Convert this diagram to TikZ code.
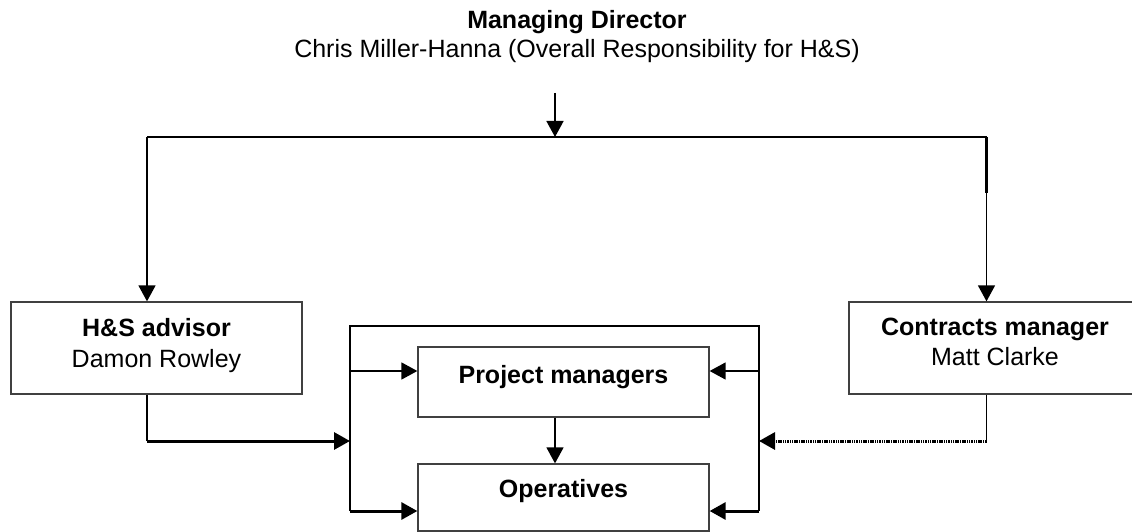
\documentclass[tikz,border=0pt]{standalone}
\usepackage{fontspec}
\setmainfont{Liberation Sans}
\usetikzlibrary{arrows.meta}
\tikzset{
  box/.style={draw=black!75, line width=1.3pt, rectangle, inner sep=0pt, minimum width=291pt},
  lbl/.style={anchor=base, inner sep=0pt, font=\fontsize{25}{29}\selectfont},
  blbl/.style={lbl, font=\fontsize{25}{29}\selectfont\bfseries},
  thinline/.style={line width=1.5pt, black},
  arr/.style={thinline, -{Triangle[length=16pt,width=17pt]}},
  thickarr/.style={line width=3pt, black, -{Triangle[length=16pt,width=17pt]}},
  dotarr/.style={line width=3pt, black, dash pattern=on 1.5pt off 0.8pt, -{Triangle[length=16pt,width=17pt]}},
}
\begin{document}
\begin{tikzpicture}[x=1pt,y=-1pt]
\useasboundingbox (0,0) rectangle (1132,532);
\fill[white] (0,0) rectangle (1132,532);
\clip (0,0) rectangle (1132,532);

% texts of the managing director
\node[blbl] (md) at (577,29) {Managing Director};
\node[lbl] (mdname) at (577,58) {Chris Miller-Hanna (Overall Responsibility for H\&S)};

% boxes
\node[box, minimum height=92pt] (hs) at (156.5,348) {};
\node[box, minimum width=292pt, minimum height=92pt] (cm) at (995,348) {};
\node[box, minimum height=70pt] (pm) at (563.5,382) {};
\node[box, minimum height=67pt] (ops) at (563.5,497.5) {};

% box texts
\node[blbl] (hst) at (156.5,336) {H\&S advisor};
\node[lbl] (hsn) at (156.5,367) {Damon Rowley};
\node[blbl] (cmt) at (995,335) {Contracts manager};
\node[lbl] (cmn) at (995,365) {Matt Clarke};
\node[blbl] (pmt) at (563.5,383) {Project managers};
\node[blbl] (opst) at (563.5,497) {Operatives};

% helper coordinates
\coordinate (mdout) at (555,93);
\coordinate (split) at (555,137);
\coordinate (jl) at (147,137);
\coordinate (jr) at (986.5,137);
\coordinate (jrthick) at (986.5,193);
\coordinate (encTL) at (350,326);
\coordinate (encTR) at (759,326);
\coordinate (encBL) at (350,511);
\coordinate (encBR) at (759,511);
\coordinate (hsbend) at (147,441);
\coordinate (cmbend) at (986.5,441);
\coordinate (pmrow) at (0,371);

% top distribution
\draw[arr] (mdout) -- (split);
\draw[thinline] (jl) -- (jr);
\draw[arr] (jl) -- (jl |- hs.north);
\draw[arr] (jr) -- (jr |- cm.north);
\draw[line width=3pt] (jr) -- (jrthick);

% enclosure bracket
\draw[thinline] (encBL) -- (encTL) -- (encTR) -- (encBR);

% arrows into project managers and operatives
\draw[arr] (encTL |- pmrow) -- (pm.west |- pmrow);
\draw[arr] (encTR |- pmrow) -- (pm.east |- pmrow);
\draw[thickarr] (encBL) -- (ops.west |- encBL);
\draw[thickarr] (encBR) -- (ops.east |- encBR);
\draw[arr] (pm.south -| mdout) -- (ops.north -| mdout);

% H&S advisor connector
\draw[thinline] (hs.south -| hsbend) -- (hsbend);
\draw[thickarr] (hsbend) -- (hsbend -| encTL);

% Contracts manager connector
\draw[thinline] (cm.south -| cmbend) -- (cmbend);
\draw[dotarr] (cmbend) -- (cmbend -| encTR);
\end{tikzpicture}
\end{document}
